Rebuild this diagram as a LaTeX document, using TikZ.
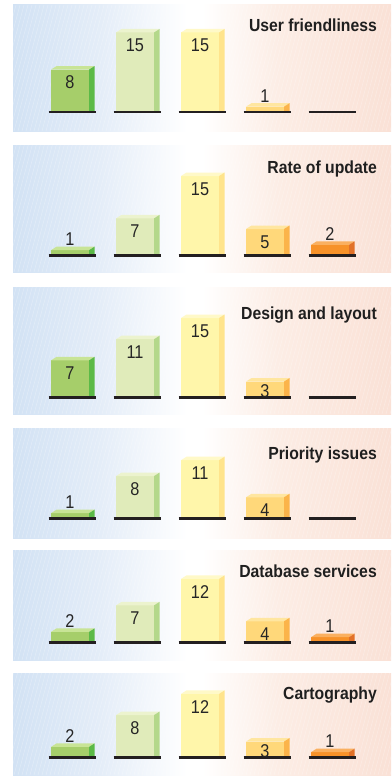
\documentclass[tikz,border=0pt]{standalone}
\usepackage{fontspec}
\setmainfont{Liberation Sans}
\newfontfamily\titlefont[FakeStretch=0.9]{Liberation Sans}
\newfontfamily\digitfont[FakeStretch=0.88]{Liberation Sans}
\definecolor{bgblue}{RGB}{210,226,244}
\definecolor{bgbluelt}{RGB}{228,237,248}
\definecolor{bgpeachlt}{RGB}{252,237,229}
\definecolor{bgpeach}{RGB}{250,225,214}
\definecolor{front1}{RGB}{166,206,106}
\definecolor{side1}{RGB}{91,186,71}
\definecolor{top1}{RGB}{200,228,150}
\definecolor{front2}{RGB}{224,235,186}
\definecolor{side2}{RGB}{180,216,138}
\definecolor{top2}{RGB}{236,243,206}
\definecolor{front3}{RGB}{255,246,170}
\definecolor{side3}{RGB}{255,228,140}
\definecolor{top3}{RGB}{255,249,200}
\definecolor{front4}{RGB}{255,216,122}
\definecolor{side4}{RGB}{251,180,74}
\definecolor{top4}{RGB}{255,230,160}
\definecolor{front5}{RGB}{247,146,41}
\definecolor{side5}{RGB}{226,113,40}
\definecolor{top5}{RGB}{250,176,96}
\definecolor{axisline}{RGB}{35,31,32}
\pgfdeclarehorizontalshading{panelbg}{100bp}{color(0bp)=(bgblue); color(25bp)=(bgblue); color(36.5bp)=(bgbluelt); color(48bp)=(white); color(50bp)=(white); color(60bp)=(bgpeachlt); color(75bp)=(bgpeach); color(100bp)=(bgpeach)}
\tikzset{
  panelbox/.style={shading=panelbg},
  hatchline/.style={draw=white, line width=0.5pt, opacity=0.3},
  axisbar/.style={draw=axisline, line width=2.4pt},
  valuelabel/.style={font=\digitfont\fontsize{18.5}{19}\selectfont, text=black!85, inner sep=0pt, anchor=base},
  paneltitle/.style={font=\titlefont\bfseries\fontsize{17.5}{19}\selectfont, text=black!88, inner sep=0pt, anchor=base east}
}
\begin{document}
\begin{tikzpicture}[x=1pt,y=-1pt]
\useasboundingbox (0,0) rectangle (391,776);
\fill[white] (0,0) rectangle (391,776);
\foreach \pt/\pb/\bl/\ty/\ttl/\vals [count=\p] in {
  5/131/112/25/User friendliness/{8,15,15,1,0},
  145/272/255.5/167.5/Rate of update/{1,7,15,5,2},
  287/414/397.5/313/Design and layout/{7,11,15,3,0},
  428/538/518.5/453/Priority issues/{1,8,11,4,0},
  550/660/642.5/571.5/Database services/{2,7,12,4,1},
  673/775/757.5/693/Cartography/{2,8,12,3,1}}{
  \fill[panelbox] (13,\pt) rectangle (391,\pb);
  \begin{scope}
    \clip (13,\pt) rectangle (391,\pb);
    \foreach \hx in {-30,-26,...,390}{
      \draw[hatchline] (\hx,\pb) -- ({\hx+0.27*(\pb-\pt)},\pt);
    }
  \end{scope}
  \node[paneltitle] (title\p) at (377,\ty+6.3) {\ttl};
  \foreach \v [count=\c] in \vals {
    \pgfmathsetmacro\bx{51+65*(\c-1)}
    \pgfmathsetmacro\h{\v*5.3}
    \ifnum\v>0
      \fill[front\c] (\bx,\bl) rectangle (\bx+38,\bl-\h);
      \fill[top\c] (\bx,\bl-\h) -- (\bx+5.5,\bl-\h-3.5) -- (\bx+43.5,\bl-\h-3.5) -- (\bx+38,\bl-\h) -- cycle;
      \fill[side\c] (\bx+38,\bl) -- (\bx+38,\bl-\h) -- (\bx+43.5,\bl-\h-3.5) -- (\bx+43.5,\bl) -- cycle;
    \fi
    \draw[axisbar] (\bx-2.5,\bl) -- (\bx+44.5,\bl);
    \ifnum\v>0
      \ifnum\v>2
        \ifnum\v=3
          \pgfmathsetmacro\ly{\bl-\h+9.5}
        \else
          \pgfmathsetmacro\ly{\bl-\h+12.5}
        \fi
      \else
        \pgfmathsetmacro\ly{\bl-\h-11}
      \fi
      \node[valuelabel] (val\p-\c) at (\bx+19,\ly+6.6) {\v};
    \fi
  }
}
\end{tikzpicture}
\end{document}
